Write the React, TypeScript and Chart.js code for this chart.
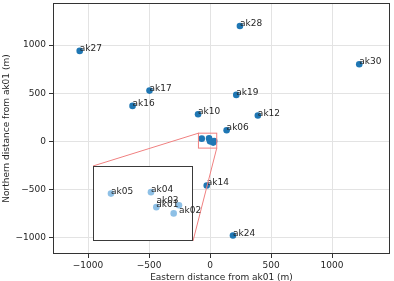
import React, { useEffect, useRef } from "react";
import { Chart, registerables } from "chart.js";
Chart.register(...registerables);

const stations = ["ak01", "ak02", "ak03", "ak04", "ak05", "ak06", "ak10", "ak12", "ak14", "ak16", "ak17", "ak19", "ak24", "ak27", "ak28", "ak30"];
const eastM = [0, 26, 34, -8, -68, 136, -98, 392, -27, -635, -496, 215, 188, -1068, 245, 1223];
const northM = [0, -13, 4, 31, 28, 116, 282, 268, -458, 368, 527, 482, -977, 939, 1198, 801];
const xTicks = [-1000, -500, 0, 500, 1000];
const yTicks = [-1000, -500, 0, 500, 1000];
const xLimits = [-1287, 1475];
const yLimits = [-1169, 1436];
const insetXLimits = [-95, 55];
const insetYLimits = [-70, 85];
const xTitle = "Eastern distance from ak01 (m)";
const yTitle = "Northern distance from ak01 (m)";

// layout / style (not data)
const W = 394;
const H = 281;
const INSET = { left: 93, top: 166, width: 100, height: 75 };
const INSET_EXTRA = { right: 24, bottom: 12 };
const FONT = '9px "DejaVu Sans"';
const TEXT = "#262626";
const BLUE = "#1f77b4";
const LIGHTBLUE = "rgba(50,140,210,0.55)";
const RED = "#f08080";
const labelNudge: Record<string, [number, number]> = { ak03: [-22.6, -2.5], ak02: [5.3, -0.8] };

const fmt = (v: number) => String(v).replace("-", "\u2212");
const inInset = (x: number, y: number) =>
  x >= insetXLimits[0] && x <= insetXLimits[1] && y >= insetYLimits[0] && y <= insetYLimits[1];

export default function App() {
  const mainRef = useRef<HTMLCanvasElement>(null);
  const insetRef = useRef<HTMLCanvasElement>(null);

  useEffect(() => {
    const points = stations.map((_, i) => ({ x: eastM[i], y: northM[i] }));

    const mainPlugin = {
      id: "mainDeco",
      afterDatasetsDraw(chart: any) {
        const { ctx, chartArea: a, scales } = chart;
        const xs = scales.x, ys = scales.y;
        ctx.save();
        ctx.font = FONT;
        ctx.fillStyle = TEXT;
        ctx.textAlign = "left";
        ctx.textBaseline = "alphabetic";
        stations.forEach((s, i) => {
          if (inInset(eastM[i], northM[i])) return;
          ctx.fillText(s, xs.getPixelForValue(eastM[i]), ys.getPixelForValue(northM[i]));
        });
        const rl = xs.getPixelForValue(insetXLimits[0]);
        const rr = xs.getPixelForValue(insetXLimits[1]);
        const rt = ys.getPixelForValue(insetYLimits[1]);
        const rb = ys.getPixelForValue(insetYLimits[0]);
        ctx.strokeStyle = RED;
        ctx.lineWidth = 1;
        ctx.strokeRect(rl, rt, rr - rl, rb - rt);
        ctx.beginPath();
        ctx.moveTo(INSET.left, INSET.top);
        ctx.lineTo(rl, rt);
        ctx.moveTo(INSET.left + INSET.width, INSET.top + INSET.height);
        ctx.lineTo(rr, rb);
        ctx.stroke();
        ctx.strokeStyle = "#333";
        ctx.strokeRect(Math.round(a.left) + 0.5, Math.round(a.top) + 0.5, Math.round(a.right - a.left) - 1, Math.round(a.bottom - a.top) - 1);
        ctx.fillStyle = TEXT;
        ctx.textAlign = "center";
        ctx.textBaseline = "middle";
        ctx.fillText(xTitle, (a.left + a.right) / 2, 277.5);
        ctx.translate(6.5, (a.top + a.bottom) / 2);
        ctx.rotate(-Math.PI / 2);
        ctx.fillText(yTitle, 0, 0);
        ctx.restore();
      },
    };

    const main = new Chart(mainRef.current!, {
      type: "scatter",
      data: {
        datasets: [
          { data: points, backgroundColor: BLUE, borderWidth: 0, pointRadius: 3.3, pointHoverRadius: 3.3 },
        ],
      },
      options: {
        responsive: false,
        animation: false,
        devicePixelRatio: 1,
        events: [],
        layout: { autoPadding: false, padding: { top: 3, right: 4, left: 0, bottom: 0 } },
        plugins: { legend: { display: false }, tooltip: { enabled: false } },
        scales: {
          x: {
            type: "linear",
            min: xLimits[0],
            max: xLimits[1],
            afterBuildTicks: (s: any) => { s.ticks = xTicks.map((v) => ({ value: v })); },
            afterFit: (s: any) => { s.height = 27; s.paddingLeft = 0; s.paddingRight = 0; },
            grid: { color: "#e3e3e3", tickColor: "#333", tickLength: 4, lineWidth: 1 },
            border: { display: false },
            ticks: { font: { family: "DejaVu Sans", size: 9 }, color: TEXT, padding: 2, maxRotation: 0, callback: (v: any) => fmt(v) },
          },
          y: {
            type: "linear",
            min: yLimits[0],
            max: yLimits[1],
            afterBuildTicks: (s: any) => { s.ticks = yTicks.map((v) => ({ value: v })); },
            afterFit: (s: any) => { s.width = 53; s.paddingTop = 0; s.paddingBottom = 0; },
            grid: { color: "#e3e3e3", tickColor: "#333", tickLength: 4, lineWidth: 1 },
            border: { display: false },
            ticks: { font: { family: "DejaVu Sans", size: 9 }, color: TEXT, padding: 3, callback: (v: any) => fmt(v) },
          },
        },
      },
      plugins: [mainPlugin],
    } as any);

    const insetPlugin = {
      id: "insetDeco",
      beforeDraw(chart: any) {
        const { ctx, chartArea: a } = chart;
        ctx.save();
        ctx.fillStyle = "#fff";
        ctx.fillRect(a.left, a.top, a.right - a.left, a.bottom - a.top);
        ctx.restore();
      },
      afterDatasetsDraw(chart: any) {
        const { ctx, scales, chartArea: a } = chart;
        ctx.save();
        ctx.strokeStyle = "#3a3a3a";
        ctx.lineWidth = 1;
        ctx.strokeRect(a.left + 0.5, a.top + 0.5, a.right - a.left - 1, a.bottom - a.top - 1);
        ctx.font = FONT;
        ctx.fillStyle = TEXT;
        ctx.textAlign = "left";
        ctx.textBaseline = "alphabetic";
        stations.forEach((s, i) => {
          if (!inInset(eastM[i], northM[i])) return;
          const n = labelNudge[s] || [0, 0];
          ctx.fillText(s, scales.x.getPixelForValue(eastM[i]) + n[0], scales.y.getPixelForValue(northM[i]) + n[1]);
        });
        ctx.restore();
      },
    };

    const inset = new Chart(insetRef.current!, {
      type: "scatter",
      data: {
        datasets: [
          { data: points, backgroundColor: LIGHTBLUE, borderWidth: 0, pointRadius: 3.3, pointHoverRadius: 3.3 },
        ],
      },
      options: {
        responsive: false,
        animation: false,
        devicePixelRatio: 1,
        events: [],
        layout: { autoPadding: false, padding: { left: 0, top: 0, right: INSET_EXTRA.right, bottom: INSET_EXTRA.bottom } },
        plugins: { legend: { display: false }, tooltip: { enabled: false } },
        scales: {
          x: { type: "linear", min: insetXLimits[0], max: insetXLimits[1], display: false },
          y: { type: "linear", min: insetYLimits[0], max: insetYLimits[1], display: false },
        },
      },
      plugins: [insetPlugin],
    } as any);

    return () => {
      main.destroy();
      inset.destroy();
    };
  }, []);

  const iw = INSET.width + INSET_EXTRA.right;
  const ih = INSET.height + INSET_EXTRA.bottom;
  return (
    <div style={{ position: "absolute", left: 0, top: 0, width: W, height: H, background: "#fff" }}>
      <canvas ref={mainRef} width={W} height={H} style={{ position: "absolute", left: 0, top: 0, width: W, height: H }} />
      <canvas
        ref={insetRef}
        width={iw}
        height={ih}
        style={{ position: "absolute", left: INSET.left, top: INSET.top, width: iw, height: ih }}
      />
    </div>
  );
}
